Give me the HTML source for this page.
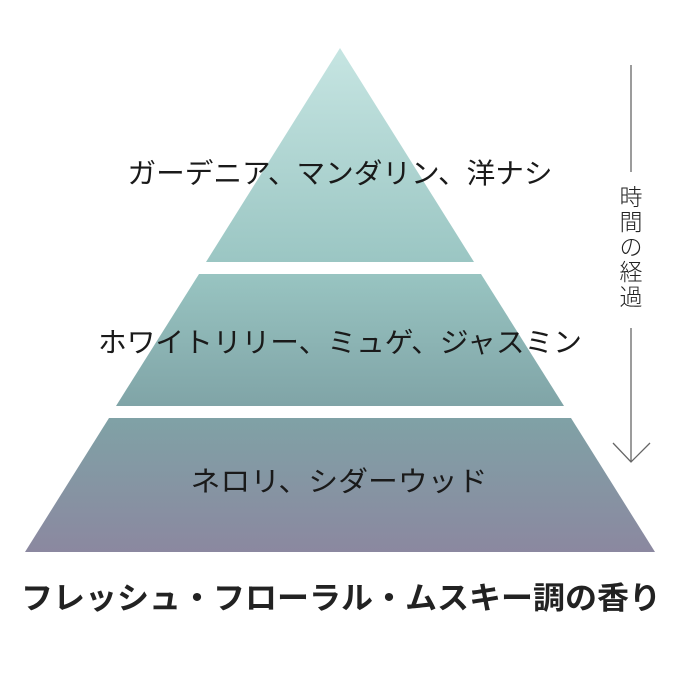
<!DOCTYPE html>
<html><head><meta charset="utf-8"><style>
body{margin:0;background:#fff;}
svg text{font-family:"Liberation Sans","Noto Sans CJK JP",sans-serif;}
</style></head><body>
<svg width="680" height="680" viewBox="0 0 680 680" xmlns="http://www.w3.org/2000/svg">
<defs>
<linearGradient id="g" gradientUnits="userSpaceOnUse" x1="0" y1="48" x2="0" y2="552">
<stop offset="0" stop-color="#c6e5e2"/>
<stop offset="0.45" stop-color="#98c4c1"/>
<stop offset="0.72" stop-color="#7fa3a6"/>
<stop offset="1" stop-color="#8b88a0"/>
</linearGradient>
</defs>
<rect width="680" height="680" fill="#fff"/>
<polygon points="340,48 474,262 206,262" fill="url(#g)"/>
<polygon points="199,274 481,274 564,406 116,406" fill="url(#g)"/>
<polygon points="109,418 571,418 655,552 25,552" fill="url(#g)"/>
<g fill="#1a1a1a" font-size="28" font-weight="400" text-anchor="middle">
<text x="340" y="183" textLength="425" lengthAdjust="spacingAndGlyphs">ガーデニア、マンダリン、洋ナシ</text>
<text x="340" y="352" textLength="484" lengthAdjust="spacingAndGlyphs">ホワイトリリー、ミュゲ、ジャスミン</text>
<text x="339" y="491" textLength="297" lengthAdjust="spacingAndGlyphs">ネロリ、シダーウッド</text>
</g>
<text x="341" y="609" font-size="31" font-weight="bold" fill="#222" text-anchor="middle" textLength="640" lengthAdjust="spacingAndGlyphs">フレッシュ・フローラル・ムスキー調の香り</text>
<g stroke="#666" stroke-width="1.3" fill="none">
<line x1="631" y1="65" x2="631" y2="172"/>
<line x1="631" y1="328" x2="631" y2="462"/>
<polyline points="613,443 631,462 650,443"/>
</g>
<g fill="#222" font-size="23" font-weight="300" text-anchor="middle">
<text x="631" y="205">時</text>
<text x="631" y="230">間</text>
<text x="631" y="255">の</text>
<text x="631" y="280">経</text>
<text x="631" y="305">過</text>
</g>
</svg>
</body></html>
